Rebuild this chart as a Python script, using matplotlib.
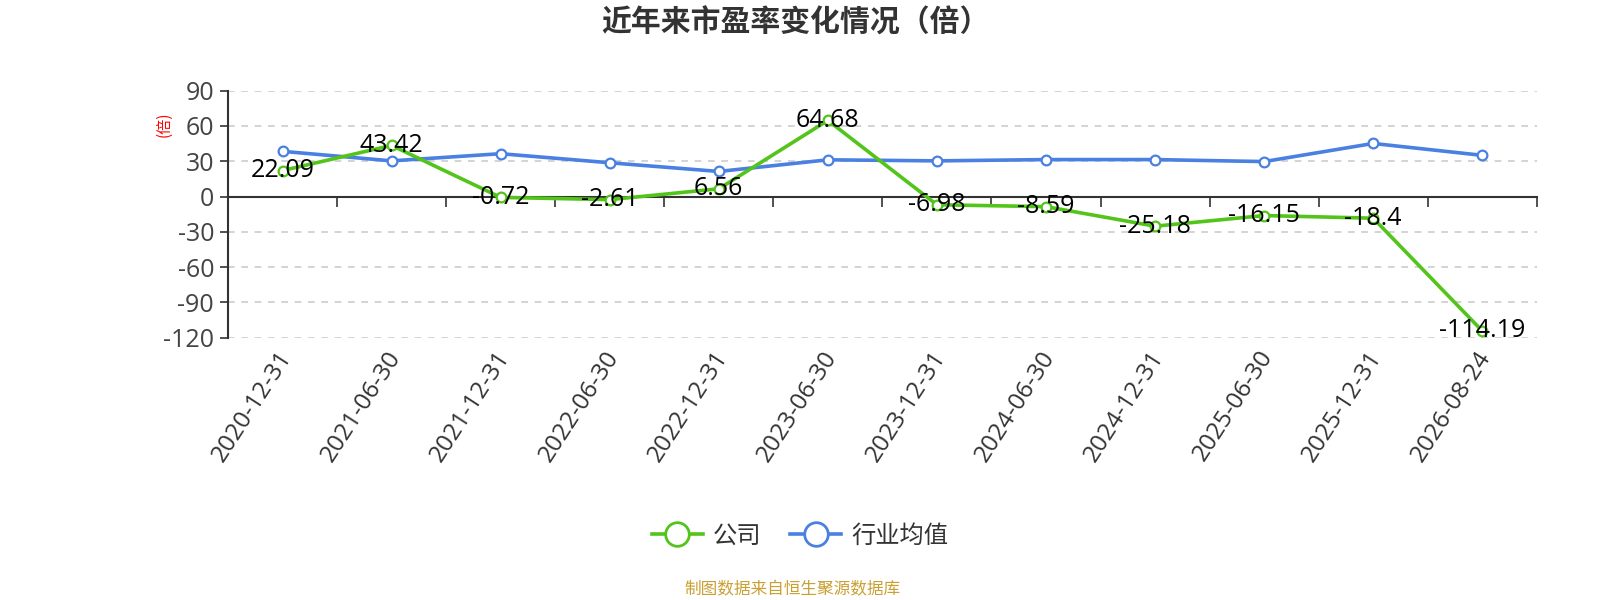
import numpy as np
import matplotlib.pyplot as plt
from matplotlib.lines import Line2D
from matplotlib.transforms import blended_transform_factory, offset_copy

plt.rcParams['font.family'] = ['Open Sans', 'Noto Sans CJK SC', 'DejaVu Sans']

# data
dates = ["2020-12-31", "2021-06-30", "2021-12-31", "2022-06-30", "2022-12-31", "2023-06-30",
         "2023-12-31", "2024-06-30", "2024-12-31", "2025-06-30", "2025-12-31", "2026-08-24"]
company = [22.09, 43.42, -0.72, -2.61, 6.56, 64.68, -6.98, -8.59, -25.18, -16.15, -18.4, -114.19]
industry = [38.4, 30.3, 36.4, 28.7, 21.3, 31.2, 30.3, 31.4, 31.4, 29.7, 45.1, 35.0]
yticks = [90, 60, 30, 0, -30, -60, -90, -120]

green = '#52c41a'
blue = '#4a80e2'
dark = '#333333'
cjk = ['Noto Sans CJK SC', 'DejaVu Sans']

fig = plt.figure(figsize=(16, 6), dpi=100)
ax = fig.add_axes([0.1425, 0.437, 0.818, 0.412])

x = np.arange(len(dates))
ax.set_xlim(-0.5, len(dates) - 0.5)
ax.set_ylim(-120, 90)

# grid
for v in yticks:
    if v != 0:
        ax.axhline(v, color='#cccccc', lw=1.2, ls=(0, (4, 4)), zorder=1)

ax.plot(x, industry, color=blue, lw=2.6, marker='o', ms=7, mfc='white',
        mec=blue, mew=1.6, zorder=3)
ax.plot(x, company, color=green, lw=2.6, marker='o', ms=7, mfc='white',
        mec=green, mew=1.6, zorder=4)

for xi, v in zip(x, company):
    ax.text(xi, v, f"{v:g}", ha='center', va='center', fontsize=18,
            color='black', zorder=6)

# axes styling
for s in ['top', 'right']:
    ax.spines[s].set_visible(False)
ax.spines['bottom'].set_position(('data', 0))
ax.spines['bottom'].set_color(dark)
ax.spines['bottom'].set_linewidth(1.5)
ax.spines['left'].set_color(dark)
ax.spines['left'].set_linewidth(1.5)

ax.set_yticks(yticks)
ax.set_yticklabels([str(v) for v in yticks])
ax.tick_params(axis='y', colors=dark, labelsize=18, length=6, width=1.2, pad=4)
ax.tick_params(axis='y', labelcolor='#444444')

ax.set_xticks(np.arange(len(dates) + 1) - 0.5)
ax.set_xticklabels([])
ax.tick_params(axis='x', direction='out', length=7, width=1.2, colors=dark)

# category labels at the bottom
tr = blended_transform_factory(ax.transData, ax.transAxes)
tr = offset_copy(tr, fig=fig, x=4, y=-15, units='dots')
for xi, d in zip(x, dates):
    ax.text(xi, 0, d, transform=tr, rotation=57, rotation_mode='anchor',
            ha='right', va='center', fontsize=17.5, color='#333333')

# y axis unit
fig.text(164 / 1600, 1 - 124 / 600, '(倍)', rotation=90, color='red',
         fontsize=11, ha='center', va='center', family=cjk)

# title
fig.text(795 / 1600, 1 - 23 / 600, '近年来市盈率变化情况（倍）', ha='center', va='center',
         fontsize=21.5, fontweight='bold', color='#333333', family=cjk)

# legend
handles = [
    Line2D([0], [0], color=green, lw=2.6, marker='o', ms=17, mfc='white', mec=green, mew=2),
    Line2D([0], [0], color=blue, lw=2.6, marker='o', ms=17, mfc='white', mec=blue, mew=2),
]
fig.legend(handles, ['公司', '行业均值'], loc='center', bbox_to_anchor=(800 / 1600, 1 - 536 / 600),
           ncol=2, frameon=False, handlelength=2.1, columnspacing=1.2,
           handletextpad=0.4, labelcolor='#333333', prop={'family': cjk, 'size': 17.5})

# source
fig.text(792 / 1600, 1 - 590 / 600, '制图数据来自恒生聚源数据库', ha='center', va='center',
         fontsize=12, color='#c9a032', family=cjk)

fig.savefig('out.png', dpi=100)
